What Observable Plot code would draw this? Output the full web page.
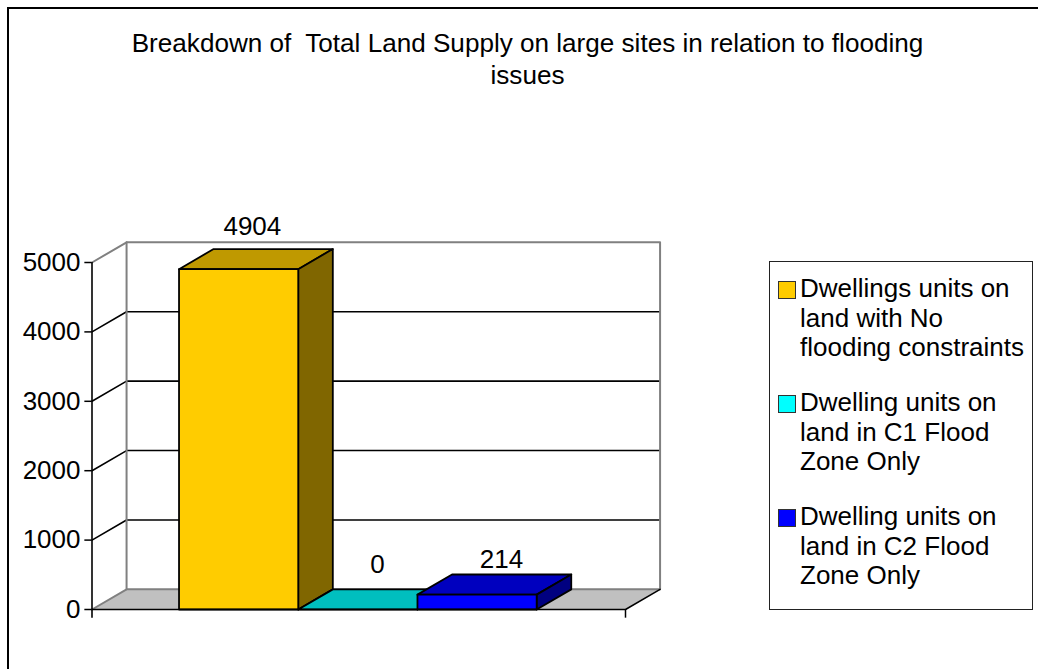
<!DOCTYPE html>
<html>
<head>
<meta charset="utf-8">
<script src="https://cdn.jsdelivr.net/npm/d3@7"></script>
<script src="https://cdn.jsdelivr.net/npm/@observablehq/plot@0.6"></script>
<style>
  html, body { margin: 0; padding: 0; background: #fff; overflow: hidden; }
  #frame { position: relative; width: 1038px; height: 669px; font-family: "Liberation Sans", Arial, sans-serif; color: #000; }
  #border { position: absolute; left: 7px; top: 7px; width: 1040px; height: 700px; border: 2px solid #000; box-sizing: border-box; }
  #title { position: absolute; left: 99px; top: 27px; width: 857px; text-align: center; font-size: 26.1px; line-height: 32px; white-space: pre-wrap; }
  #legend { position: absolute; left: 769px; top: 261px; width: 264px; height: 349px; border: 1.5px solid #222; box-sizing: border-box; }
  .item { position: absolute; left: 8px; font-size: 26px; line-height: 29.5px; }
  .item i { position: absolute; left: 0; top: 7px; width: 18px; height: 18px; border: 1.5px solid #333; box-sizing: border-box; }
  .item span { display: block; margin-left: 22px; white-space: pre; }
  #chart { position: absolute; left: 0; top: 0; }
</style>
</head>
<body>
<div id="frame">
  <div id="border"></div>
  <div id="chart"></div>
  <div id="title"></div>
  <div id="legend"></div>
</div>
<script>
// Data
const titleLines = ["Breakdown of  Total Land Supply on large sites in relation to flooding", "issues"];
const seriesNames = [
  "Dwellings units on\nland with No\nflooding constraints",
  "Dwelling units on\nland in C1 Flood\nZone Only",
  "Dwelling units on\nland in C2 Flood\nZone Only"
];
const seriesValues = [4904, 0, 214];
const frontColors = ["#ffcc00", "#00ffff", "#0000ff"];
const topColors = ["#bf9900", "#00bfbf", "#0000bf"];
const sideColors = ["#806600", "#008080", "#000080"];
const yTicks = [0, 1000, 2000, 3000, 4000, 5000];
const floorGrey = "#c0c0c0";
const wallGrey = "#808080";

// Depth of the 3-D box, in data units of each scale
const depthX = 0.29;
const depthY = 290;
const xMin = -0.73, xMax = 3.745;
const tickLenX = 0.06;
const tickDrop = 125;
const labelLift = [320, 350, 210];
const labelShift = [-0.03, 0.02, 0.06];

// Polygon helper: one closed outline, expressed in data units
const poly = (id, color, stroke, pts) =>
  [...pts, pts[0]].map(([x, y], i) => ({id, color, stroke, x, y, i}));

const faces = seriesValues.flatMap((v, i) => {
  const a = i, b = i + 1;
  return [
    ...poly(`top${i}`, topColors[i], "#000", [[a, v], [b, v], [b + depthX, v + depthY], [a + depthX, v + depthY]]),
    ...poly(`side${i}`, sideColors[i], "#000", [[b, 0], [b + depthX, depthY], [b + depthX, v + depthY], [b, v]]),
    ...(v > 0 ? poly(`front${i}`, frontColors[i], "#000", [[a, 0], [b, 0], [b, v], [a, v]]) : [])
  ];
});

const floor = poly("floor", floorGrey, wallGrey, [[xMin, 0], [xMax, 0], [xMax + depthX, depthY], [xMin + depthX, depthY]]);

const gridLines = yTicks.slice(1, -1).flatMap(t => [
  {id: t, x: xMin, y: t},
  {id: t, x: xMin + depthX, y: t + depthY},
  {id: t, x: xMax + depthX, y: t + depthY}
]);

const wallEdges = [
  {id: "l", x: xMin, y: 5000}, {id: "l", x: xMin + depthX, y: 5000 + depthY},
  {id: "l", x: xMax + depthX, y: 5000 + depthY}, {id: "l", x: xMax + depthX, y: depthY},
  {id: "m", x: xMin + depthX, y: 5000 + depthY}, {id: "m", x: xMin + depthX, y: depthY},
  {id: "b", x: xMin, y: 0}, {id: "b", x: xMin + depthX, y: depthY}, {id: "b", x: xMax + depthX, y: depthY}
];
const floorFront = [
  {x: xMax, y: 0}, {x: xMax + depthX, y: depthY}
];

const labels = seriesValues.map((v, i) => ({x: i + 0.5 + depthX / 2 + labelShift[i], y: v + depthY + labelLift[i], label: String(v)}));

const chart = Plot.plot({
  width: 1038,
  height: 669,
  marginLeft: 0, marginRight: 0, marginTop: 0, marginBottom: 0,
  style: {background: "transparent", fontFamily: "'Liberation Sans', Arial, sans-serif"},
  x: {type: "linear", domain: [xMin, xMax], range: [91.5, 625], axis: null},
  y: {type: "linear", domain: [0, 5000], range: [609, 262], axis: null},
  marks: [
    Plot.line(floor, {x: "x", y: "y", z: "id", fill: "color", stroke: "none"}),
    Plot.line(gridLines, {x: "x", y: "y", z: "id", stroke: "#000", strokeWidth: 1.6}),
    Plot.line(wallEdges, {x: "x", y: "y", z: "id", stroke: wallGrey, strokeWidth: 2}),
    Plot.line(floorFront, {x: "x", y: "y", stroke: "#000", strokeWidth: 1.5}),
    Plot.line(faces, {x: "x", y: "y", z: "id", fill: "color", stroke: "stroke", strokeWidth: 1.8, strokeLinejoin: "round"}),
    // Axis lines and ticks
    Plot.ruleX([xMin], {y1: -tickDrop, y2: 5000, stroke: "#000", strokeWidth: 1.6}),
    Plot.ruleX([xMax], {y1: -tickDrop, y2: 0, stroke: "#000", strokeWidth: 1.5}),
    Plot.ruleY([0], {x1: xMin, x2: xMax, stroke: "#000", strokeWidth: 1.6}),
    Plot.ruleY(yTicks, {x1: xMin - tickLenX, x2: xMin, stroke: "#000", strokeWidth: 1.5}),
    Plot.text(yTicks, {x: xMin, y: d => d, text: d => String(d), textAnchor: "end", dx: -11.5, fontSize: 26, fill: "#000"}),
    Plot.text(labels, {x: "x", y: "y", text: "label", fontSize: 26, fill: "#000"})
  ]
});
document.getElementById("chart").append(chart);

document.getElementById("title").textContent = titleLines.join("\n");

const legend = document.getElementById("legend");
const itemTops = [12, 126, 240];
seriesNames.forEach((name, i) => {
  const item = document.createElement("div");
  item.className = "item";
  item.style.top = itemTops[i] + "px";
  const swatch = document.createElement("i");
  swatch.style.background = frontColors[i];
  const text = document.createElement("span");
  text.textContent = name;
  item.append(swatch, text);
  legend.append(item);
});
</script>
</body>
</html>
